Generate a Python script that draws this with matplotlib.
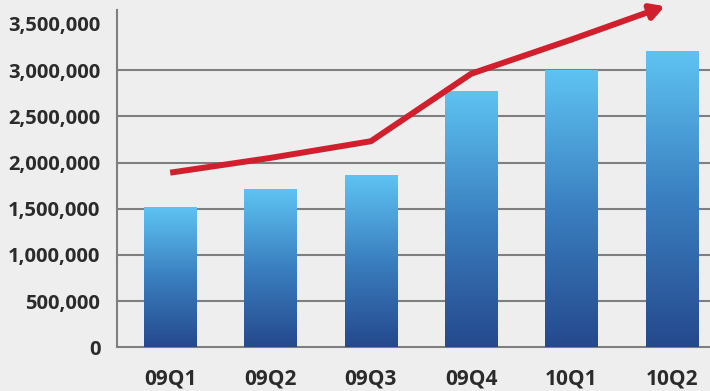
import numpy as np
import matplotlib
matplotlib.use("Agg")
import matplotlib.pyplot as plt
from matplotlib.colors import LinearSegmentedColormap
from matplotlib.ticker import FuncFormatter

categories = ["09Q1", "09Q2", "09Q3", "09Q4", "10Q1", "10Q2"]
bar_values = [1510000, 1700000, 1850000, 2760000, 2990000, 3190000]
trend_values = [1890000, 2050000, 2230000, 2960000, 3330000, 3690000]
yticks = [0, 500000, 1000000, 1500000, 2000000, 2500000, 3000000, 3500000]

bg = "#eeeeee"
plt.rcParams['font.family'] = ['Open Sans', 'DejaVu Sans']

fig = plt.figure(figsize=(7.1, 3.91), dpi=100, facecolor=bg)
ax = fig.add_axes([0.1648, 0.1113, 0.8352, 0.8631], facecolor=bg)

x = np.arange(len(categories))
bars = ax.bar(x, bar_values, width=0.52, color="none", zorder=3)

cmap = LinearSegmentedColormap.from_list("bluegrad", ["#25498d", "#3a7fc0", "#5ec3f2"])
grad = np.linspace(0, 1, 256).reshape(-1, 1)
for b in bars:
    x0, y0 = b.get_x(), b.get_y()
    w, h = b.get_width(), b.get_height()
    ax.imshow(grad, extent=[x0, x0 + w, y0, y0 + h], origin="lower",
              aspect="auto", cmap=cmap, zorder=3)

ax.plot(x[:-1], trend_values[:-1], color="#d21f2d", lw=4.3, zorder=5,
        solid_capstyle="butt", solid_joinstyle="miter", clip_on=False)
ax.annotate("", xy=(x[-1] - 0.07, trend_values[-1]), xytext=(x[-2], trend_values[-2]),
            arrowprops=dict(arrowstyle="-|>,head_length=0.8,head_width=0.45",
                            color="#d21f2d", lw=4.3, shrinkA=0, shrinkB=0),
            zorder=5, annotation_clip=False)

ax.set_xlim(-0.53, 5.38)
ax.set_ylim(0, 3649000)
ax.set_yticks(yticks)
ax.yaxis.set_major_formatter(FuncFormatter(lambda v, p: f"{int(v):,}"))
ax.set_xticks(x)
ax.set_xticklabels(categories)

ax.grid(axis="y", color="#7f7f7f", lw=1.5, zorder=1)
ax.set_axisbelow(True)
gl = ax.get_ygridlines()
gl[-1].set_visible(False)
gl[0].set_visible(False)

for s in ["top", "right"]:
    ax.spines[s].set_visible(False)
for s in ["left", "bottom"]:
    ax.spines[s].set_color("#7f7f7f")
    ax.spines[s].set_linewidth(1.5)

ax.tick_params(axis="both", length=0, labelcolor="#2b2b2b")
ax.tick_params(axis="y", pad=12, labelsize=14.5)
ax.tick_params(axis="x", pad=15, labelsize=15)
for lab in ax.get_xticklabels() + ax.get_yticklabels():
    lab.set_fontweight("bold")

fig.savefig("out.png", dpi=100, facecolor=bg)
